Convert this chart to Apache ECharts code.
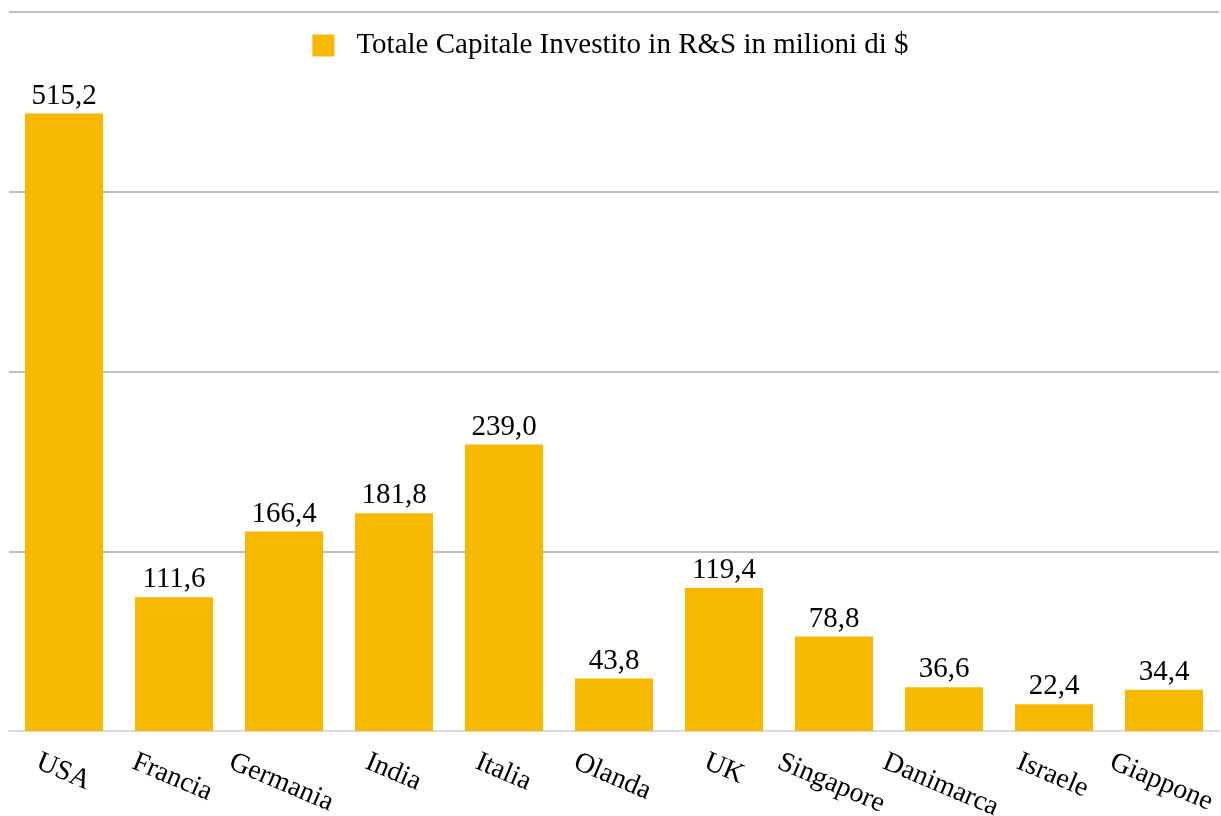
<!DOCTYPE html>
<html><head><meta charset="utf-8">
<script src="https://cdn.jsdelivr.net/npm/echarts@6/dist/echarts.min.js"></script>
<style>html,body{margin:0;padding:0;background:#fff}#c{width:1221px;height:816px}</style>
</head><body><div id="c"></div>
<script>
const categories = ['USA','Francia','Germania','India','Italia','Olanda','UK','Singapore','Danimarca','Israele','Giappone'];
const values = [515.2,111.6,166.4,181.8,239.0,43.8,119.4,78.8,36.6,22.4,34.4];
const seriesName = 'Totale Capitale Investito in R&S in milioni di $';
const font = 'Liberation Serif';
const labelFont = '28px "Liberation Serif"';
const measureCtx = document.createElement('canvas').getContext('2d');
measureCtx.font = labelFont;
const chart = echarts.init(document.getElementById('c'));
chart.setOption({
  animation:false,
  textStyle:{fontFamily:font},
  legend:{top:26,left:'center',itemWidth:22,itemHeight:22,itemGap:10,icon:'rect',
    textStyle:{fontFamily:font,fontSize:29,lineHeight:22,color:'#000',padding:[3,0,0,17]},data:[seriesName]},
  grid:{left:9,right:2,top:12,bottom:85,containLabel:false},
  xAxis:{type:'category',data:categories,
    axisLine:{lineStyle:{color:'#D9D9D9',width:2}},axisTick:{show:false},
    axisLabel:{show:false}},
  yAxis:{type:'value',min:0,max:600,interval:150,
    axisLabel:{show:false},axisLine:{show:false},axisTick:{show:false},
    splitLine:{lineStyle:{color:'#BFBFBF',width:2}}},
  series:[{name:seriesName,type:'bar',data:values,barCategoryGap:'29%',
    itemStyle:{color:'#F6B900'},
    label:{show:true,position:'top',distance:3,fontFamily:font,fontSize:29,color:'#000',
      formatter:p=>p.value.toFixed(1).replace('.',',')}},
   {name:'labels',type:'custom',silent:true,clip:false,z:10,
    data:categories.map((c,i)=>[i,0]),
    renderItem:function(params,api){
      const idx = api.value(0);
      const p = api.coord([idx,0]);
      const txt = categories[idx];
      const w = measureCtx.measureText(txt).width;
      return {type:'text',x:p[0]-w/2+7,y:p[1]+17,rotation:-23*Math.PI/180,
        style:{text:txt,x:0,y:0,align:'left',verticalAlign:'top',font:labelFont,fill:'#000'}};
    }}]
});
</script></body></html>
